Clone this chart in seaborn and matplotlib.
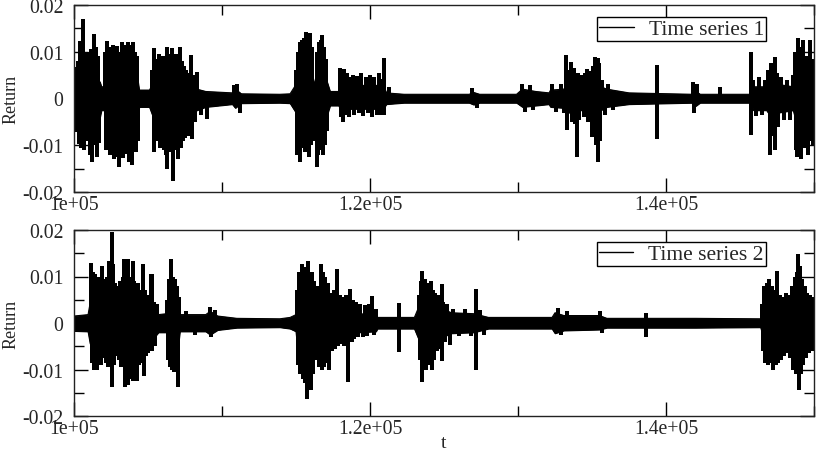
import matplotlib
matplotlib.use("Agg")
import matplotlib.pyplot as plt
import seaborn as sns
from matplotlib.ticker import MultipleLocator

# ---------------- data ----------------
x_ticks = [100000, 120000, 140000]
x_tick_labels = ["1e+05", "1.2e+05", "1.4e+05"]
y_ticks = [-0.02, -0.01, 0.0, 0.01, 0.02]
y_tick_labels = ["-0.02", "-0.01", "0", "0.01", "0.02"]
series_names = ["Time series 1", "Time series 2"]

# ---- Series 1: dense core band (upper / lower envelope)
t1_core = [100000, 100300, 100600, 101000, 101400, 101750, 101850, 102050, 102150, 102600,
           103000, 103500, 104000, 104300, 104400, 105100, 105300, 105600, 106000, 106500,
           107000, 107500, 107800, 108300, 108900, 110700, 110900, 111300, 113900, 114600,
           115000, 115200, 115700, 116100, 116250, 116450, 116800, 117100, 117300, 117900,
           118000, 118500, 118700, 120900, 121100, 122300, 126700, 127000, 127400, 129900,
           130300, 131200, 132100, 132200, 133100, 133300, 133900, 134000, 135000, 135200,
           135500, 135600, 136000, 137500, 141800, 142000, 142300, 145700, 145900, 146800,
           147000, 147600, 148600, 148800, 149400, 149600, 150000]
hi1_core = [0.0035, 0.004, 0.005, 0.005, 0.005, 0.0035, 0.0025, 0.0025, 0.005, 0.0055,
            0.0055, 0.0055, 0.005, 0.004, 0.0018, 0.0018, 0.003, 0.0045, 0.0045, 0.0045,
            0.0045, 0.0035, 0.003, 0.002, 0.0015, 0.0012, 0.002, 0.001, 0.0009, 0.001,
            0.003, 0.005, 0.0055, 0.005, 0.003, 0.005, 0.005, 0.0035, 0.0015, 0.0015,
            0.003, 0.003, 0.0028, 0.0028, 0.0012, 0.0009, 0.0009, 0.0013, 0.0009, 0.0009,
            0.002, 0.0015, 0.0012, 0.0018, 0.002, 0.003, 0.003, 0.0025, 0.003, 0.004,
            0.004, 0.0025, 0.002, 0.0012, 0.0009, 0.0016, 0.0009, 0.0009, 0.0025, 0.0025,
            0.0035, 0.003, 0.0025, 0.005, 0.0055, 0.0045, 0.0045]
lo1_core = [-0.0035, -0.0045, -0.005, -0.0055, -0.0055, -0.004, -0.0025, -0.0025, -0.0055, -0.006,
            -0.006, -0.006, -0.0055, -0.0045, -0.0018, -0.0018, -0.0035, -0.005, -0.0055, -0.0055,
            -0.005, -0.0045, -0.0035, -0.0025, -0.0018, -0.0012, -0.002, -0.001, -0.0009, -0.001,
            -0.003, -0.0055, -0.0055, -0.005, -0.003, -0.0055, -0.005, -0.0035, -0.0015, -0.0015,
            -0.0025, -0.0025, -0.0022, -0.0022, -0.0012, -0.0009, -0.0009, -0.0013, -0.0009, -0.0009,
            -0.0018, -0.0015, -0.0012, -0.0018, -0.002, -0.003, -0.003, -0.0025, -0.0025, -0.004,
            -0.0045, -0.0025, -0.0018, -0.0012, -0.0009, -0.0016, -0.0009, -0.0009, -0.0025, -0.0025,
            -0.0035, -0.003, -0.0025, -0.005, -0.0055, -0.005, -0.005]

# ---- Series 1: individual spikes (time, value)
t1_spk = [100050, 100100, 100180, 100240, 100300, 100350, 100420, 100470, 100520, 100580,
          100630, 100700, 100760, 100820, 100880, 100940, 101000, 101060, 101120, 101200,
          101260, 101350, 101420, 101480, 101550, 101620, 101700,
          102120, 102180, 102250, 102310, 102380, 102440, 102500, 102570, 102640, 102700,
          102780, 102850, 102920, 102980, 103040, 103100, 103170, 103220, 103300, 103370,
          103440, 103520, 103590, 103650, 103720, 103790, 103860, 103900, 103950, 104020,
          104080, 104150, 104220, 104290, 104330,
          105300, 105400, 105400, 105500, 105580, 105650, 105720, 105800, 105870, 105940,
          106010, 106080, 106150, 106220, 106260, 106300, 106380, 106450, 106520, 106600,
          106690, 106760, 106830, 106900, 107000, 107080, 107160, 107230, 107300, 107380,
          107450, 107520, 107600, 107680, 107750, 107820, 107900, 107950, 108080, 108150,
          108300, 108600, 108960, 110800, 111000, 111200,
          115020, 115050, 115120, 115200, 115250, 115300, 115380, 115440, 115520, 115580,
          115650, 115720, 115800, 115870, 115950, 116020, 116100, 116160, 116420, 116400,
          116480, 116540, 116600, 116660, 116730, 116800, 116870, 116940, 117010, 117080,
          117950, 118020, 118100, 118200, 118250, 118350, 118450, 118600, 118700, 118850,
          118950, 119100, 119250, 119400, 119550, 119700, 119850, 120000, 120150, 120300,
          120450, 120600, 120700, 120800, 120950, 120950, 121300,
          126900, 127200, 130300, 130500, 130800, 131000,
          132300, 132600, 132900, 133100, 133240, 133330, 133450, 133560, 133650, 133750,
          133850, 133960, 134050, 134150, 134300, 134450, 134550, 134640, 134750, 134850,
          134980, 135100, 135225, 135300, 135400, 135400, 135480, 135550, 135700, 135850,
          136100, 136400, 139370, 139370, 141800, 141900, 142100, 143650,
          145740, 145740, 145900, 146100, 146300, 146500, 146700, 146913, 147000, 147100,
          147200, 147300, 147390, 147390, 147500, 147600, 147800, 148000, 148200, 148400,
          148600, 148720, 148800, 148850, 148900, 148970, 149050, 149100, 149180, 149280,
          149350, 149450, 149520, 149600, 149700, 149780, 149850, 149930]
v1_spk = [0.0062, -0.0072, 0.0068, -0.0060, 0.0080, -0.0098, 0.0122, -0.0105, 0.0118, -0.0085,
          0.0170, -0.0110, 0.0095, -0.0080, 0.0100, -0.0090, 0.0090, -0.0120, 0.0105, -0.0136,
          0.0095, 0.0137, -0.0100, 0.0110, -0.0125, 0.0090, -0.0095,
          0.0100, -0.0110, 0.0123, -0.0095, 0.0110, -0.0120, 0.0105, -0.0100, 0.0115, -0.0130,
          0.0108, -0.0115, 0.0112, -0.0125, -0.0146, 0.0100, -0.0110, 0.0120, -0.0128, 0.0110,
          -0.0118, 0.0115, -0.0100, 0.0120, -0.0135, 0.0105, -0.0120, -0.0143, 0.0115, 0.0120,
          -0.0110, 0.0100, -0.0115, 0.0090, -0.0090,
          0.0060, 0.0107, -0.0114, -0.0070, 0.0085, -0.0090, 0.0095, -0.0105, 0.0080, -0.0095,
          0.0090, -0.0110, 0.0085, -0.0120, 0.0110, -0.0150, 0.0095, -0.0115, 0.0090, 0.0107,
          -0.0177, 0.0080, -0.0110, 0.0095, -0.0130, 0.0085, 0.0110, -0.0105, 0.0080, -0.0090,
          0.0070, -0.0085, 0.0060, -0.0080, 0.0055, -0.0070, 0.0093, -0.0086, 0.0050, -0.0050,
          0.0057, -0.0035, -0.0043, 0.0028, 0.0032, -0.0030,
          0.0060, -0.0121, 0.0100, -0.0110, 0.0120, -0.0136, 0.0125, -0.0105, 0.0130, -0.0115,
          0.0143, -0.0110, 0.0120, -0.0125, 0.0140, -0.0100, 0.0110, -0.0090, 0.0100, -0.0146,
          -0.0120, 0.0120, -0.0110, 0.0125, 0.0136, -0.0120, 0.0110, -0.0100, 0.0085, -0.0070,
          0.0066, -0.0040, 0.0050, -0.0050, 0.0064, -0.0035, 0.0055, -0.0040, 0.0045, 0.0050,
          -0.0035, 0.0048, -0.0030, 0.0055, -0.0038, 0.0045, -0.0032, 0.0050, -0.0040, 0.0045,
          -0.0035, 0.0055, -0.0036, 0.0042, 0.0086, -0.0036, 0.0025,
          0.0022, -0.0020, 0.0030, -0.0028, 0.0028, -0.0025,
          0.0030, -0.0028, 0.0032, -0.0030, 0.0093, -0.0068, 0.0060, 0.0079, -0.0050, 0.0065,
          -0.0055, -0.0125, 0.0055, -0.0045, 0.0050, -0.0040, 0.0055, 0.0064, -0.0050, 0.0058,
          -0.0082, 0.0070, 0.0089, -0.0100, 0.0087, -0.0136, 0.0075, -0.0090, 0.0040, -0.0035,
          0.0032, -0.0025, 0.0071, -0.0086, 0.0036, -0.0030, 0.0032, 0.0025,
          0.0100, -0.0079, 0.0040, -0.0038, 0.0045, -0.0035, 0.0040, 0.0060, -0.0120, 0.0075,
          -0.0080, 0.0065, 0.0089, -0.0110, 0.0055, -0.0060, 0.0045, -0.0045, 0.0040, -0.0045,
          0.0050, 0.0100, -0.0110, -0.0125, 0.0129, -0.0100, 0.0110, -0.0130, 0.0105, 0.0125,
          -0.0105, 0.0090, -0.0095, -0.0121, 0.0125, -0.0090, 0.0085, -0.0100]

# ---- Series 2: dense core band
t2_core = [100000, 100950, 101100, 101600, 102000, 102700, 102900, 103200, 103700, 104300,
           104600, 105200, 105700, 106250, 106350, 106800, 107050, 107150, 108900, 109200,
           109700, 111000, 113900, 114600, 115000, 115100, 116000, 116300, 116500, 117300,
           117400, 118000, 118100, 119100, 119200, 120400, 120500, 123000, 123300, 123700,
           124100, 124400, 124900, 125500, 127000, 128000, 132300, 132500, 133100, 135500,
           136000, 142000, 146400, 146600, 147200, 147600, 148200, 148600, 149300, 149500,
           150000]
hi2_core = [0.0015, 0.0018, 0.0045, 0.0055, 0.005, 0.005, 0.004, 0.0045, 0.005, 0.0045,
            0.0035, 0.0035, 0.0018, 0.002, 0.0045, 0.005, 0.004, 0.0018, 0.0018, 0.0025,
            0.0015, 0.001, 0.0009, 0.0012, 0.0018, 0.005, 0.0055, 0.003, 0.005, 0.0045,
            0.0038, 0.0035, 0.003, 0.0025, 0.002, 0.0018, 0.0012, 0.0012, 0.0035, 0.0045,
            0.004, 0.0038, 0.003, 0.0022, 0.002, 0.0012, 0.0012, 0.0022, 0.0016, 0.0016,
            0.001, 0.001, 0.0009, 0.0035, 0.0045, 0.0035, 0.0038, 0.0045, 0.004, 0.003,
            0.003]
lo2_core = [-0.0017, -0.0018, -0.0045, -0.0055, -0.005, -0.005, -0.004, -0.005, -0.0055, -0.0055,
            -0.0045, -0.004, -0.002, -0.002, -0.0045, -0.0055, -0.0045, -0.0018, -0.0018, -0.0025,
            -0.0015, -0.001, -0.0009, -0.0012, -0.0018, -0.005, -0.0055, -0.003, -0.005, -0.0045,
            -0.0038, -0.0035, -0.003, -0.0025, -0.002, -0.0018, -0.0012, -0.0012, -0.0035, -0.005,
            -0.005, -0.004, -0.003, -0.0022, -0.002, -0.0012, -0.0012, -0.0022, -0.0016, -0.0014,
            -0.001, -0.001, -0.0009, -0.0035, -0.005, -0.005, -0.004, -0.0055, -0.0045, -0.0035,
            -0.0035]

# ---- Series 2: individual spikes (time, value)
t2_spk = [101150, 101200, 101280, 101350, 101420, 101500, 101531, 101600, 101680, 101760,
          101840, 101914, 101990, 102060, 102130, 102200, 102280, 102342, 102432, 102545,
          102590, 102657, 102720, 102800, 102880, 102960, 103040, 103120, 103200, 103280,
          103355, 103468, 103540, 103610, 103671, 103671, 103750, 103820, 103900, 103964,
          103986, 104060, 104140, 104234, 104300, 104380, 104450, 104530, 104600, 104662,
          104707, 104780, 104860, 104940, 105020, 105100, 105202, 105247, 105300, 105400,
          105500, 105600,
          106300, 106360, 106420, 106480, 106553, 106576, 106640, 106700, 106770, 106840,
          106900, 106960, 107026, 107049, 107100, 107600, 108200, 109188, 109256, 109500,
          115060, 115120, 115200, 115280, 115382, 115450, 115520, 115600, 115660, 115720,
          115780, 115833, 115900, 115990, 116060, 116130, 116200, 116260, 116520, 116580,
          116666, 116740, 116820, 116900, 116980, 117060, 117150, 117252, 117350, 117450,
          117550, 117650, 117747, 117850, 117950, 118050, 118150, 118250, 118350, 118450,
          118535, 118648, 118750, 118850, 118950, 119050, 119200, 119350, 119500, 119650,
          119800, 119950, 120111, 120250, 120400, 121981, 121981,
          123300, 123380, 123450, 123535, 123535, 123620, 123700, 123780, 123850, 123920,
          124000, 124098, 124165, 124250, 124330, 124420, 124500, 124600, 124700, 124841,
          124841, 124950, 125050, 125200, 125404, 125600, 126000, 126400, 126800, 127138,
          127138, 127400, 127700,
          132726, 132900, 133300, 135541, 135700, 138648, 138648,
          146500, 146580, 146650, 146720, 146800, 146880, 146981, 147050, 147130, 147251,
          147320, 147400, 147521, 147600, 147700, 147800, 147900, 148000, 148100, 148200,
          148300, 148400, 148500, 148602, 148700, 148780, 148860, 148940, 148963, 149053,
          149130, 149200, 149280, 149360, 149450, 149550, 149650, 149750, 149850, 149950]
v2_spk = [0.0130, -0.0085, 0.0110, -0.0102, 0.0105, -0.0095, -0.0102, 0.0100, -0.0080, 0.0090,
          -0.0090, 0.0123, -0.0075, 0.0095, -0.0085, 0.0100, -0.0095, 0.0133, 0.0120, -0.0138,
          0.0196, 0.0126, -0.0090, 0.0085, -0.0070, 0.0080, -0.0080, 0.0090, -0.0095, 0.0100,
          0.0137, -0.0138, 0.0095, -0.0110, 0.0137, -0.0134, 0.0100, -0.0120, 0.0095, 0.0134,
          -0.0125, 0.0090, -0.0110, -0.0124, 0.0085, -0.0090, 0.0070, -0.0085, 0.0065, 0.0126,
          -0.0113, 0.0070, -0.0070, 0.0060, -0.0065, 0.0055, 0.0105, 0.0106, -0.0060, 0.0045,
          -0.0050, 0.0040,
          0.0050, -0.0080, 0.0095, -0.0095, 0.0137, 0.0120, -0.0100, 0.0098, -0.0105, 0.0095,
          -0.0098, 0.0080, -0.0138, -0.0120, 0.0055, 0.0025, -0.0025, 0.0034, -0.0030, 0.0028,
          0.0070, -0.0090, 0.0110, -0.0110, 0.0126, -0.0120, 0.0115, -0.0130, 0.0120, -0.0163,
          0.0110, 0.0134, -0.0120, -0.0145, 0.0110, -0.0110, 0.0090, -0.0080, 0.0080, -0.0095,
          0.0126, -0.0100, 0.0110, -0.0095, 0.0100, -0.0085, 0.0085, -0.0102, 0.0065, -0.0060,
          0.0070, -0.0055, 0.0116, -0.0050, 0.0060, -0.0045, 0.0055, -0.0050, 0.0060, -0.0045,
          -0.0127, 0.0073, -0.0040, 0.0050, -0.0035, 0.0045, -0.0030, 0.0040, -0.0030, 0.0038,
          -0.0028, 0.0040, 0.0059, -0.0025, 0.0030, 0.0044, -0.0063,
          0.0060, -0.0080, 0.0090, 0.0112, -0.0127, -0.0095, 0.0095, -0.0100, 0.0085, -0.0090,
          0.0080, 0.0091, -0.0102, 0.0070, -0.0080, 0.0065, -0.0060, 0.0060, -0.0055, 0.0084,
          -0.0081, 0.0045, -0.0040, 0.0040, -0.0048, 0.0030, -0.0028, 0.0030, -0.0028, 0.0073,
          -0.0100, 0.0028, -0.0025,
          0.0033, -0.0025, 0.0026, 0.0026, -0.0022, 0.0021, -0.0031,
          0.0040, -0.0060, 0.0080, -0.0085, 0.0085, -0.0090, 0.0094, -0.0085, 0.0080, -0.0100,
          0.0070, -0.0090, 0.0112, -0.0085, 0.0060, -0.0080, 0.0055, -0.0070, 0.0065, -0.0065,
          0.0060, -0.0075, 0.0080, -0.0102, 0.0100, -0.0110, 0.0110, 0.0149, -0.0145, 0.0123,
          -0.0110, 0.0095, -0.0090, 0.0080, -0.0075, 0.0065, -0.0065, 0.0060, -0.0060, 0.0055]

# ---------------- style ----------------
sns.set_style("ticks")
plt.rcParams["font.family"] = ["Liberation Serif", "DejaVu Serif"]
plt.rcParams["axes.linewidth"] = 1.0

W, H = 817, 452
fig = plt.figure(figsize=(W / 100, H / 100), dpi=100)

def fx(px):
    return px / W

def fy(py):
    return 1 - py / H

panels = [
    dict(top=6, bottom=193, t=t1_core, hi=hi1_core, lo=lo1_core, ts=t1_spk, vs=v1_spk,
         name=series_names[0], leg_top=18),
    dict(top=231, bottom=417, t=t2_core, hi=hi2_core, lo=lo2_core, ts=t2_spk, vs=v2_spk,
         name=series_names[1], leg_top=243),
]

left_px, right_px = 74, 814
for i, p in enumerate(panels):
    ax = fig.add_axes([fx(left_px), fy(p["bottom"]), fx(right_px) - fx(left_px),
                       fy(p["top"]) - fy(p["bottom"])])
    ax.fill_between(p["t"], p["lo"], p["hi"], color="black", linewidth=0.8)
    sns.lineplot(x=p["t"], y=p["hi"], ax=ax, color="black", linewidth=0.8,
                 estimator=None, sort=False, label=p["name"])
    sns.lineplot(x=p["t"], y=p["lo"], ax=ax, color="black", linewidth=0.8,
                 estimator=None, sort=False, legend=False)
    ax.vlines(p["ts"], 0, p["vs"], color="black", linewidth=1.7, antialiased=False)

    ax.set_xlim(100000, 150000)
    ax.set_ylim(-0.02, 0.02)
    ax.set_xticks(x_ticks, x_tick_labels)
    ax.set_yticks(y_ticks, y_tick_labels)
    ax.xaxis.set_minor_locator(MultipleLocator(10000))
    ax.yaxis.set_minor_locator(MultipleLocator(0.005))
    ax.tick_params(which="both", direction="in", top=True, right=True,
                   labelsize=14.2, color="black", width=1.0)
    ax.tick_params(which="major", length=10)
    ax.tick_params(which="minor", length=7)
    ax.tick_params(axis="x", which="major", pad=2)
    ax.tick_params(axis="y", which="major", pad=7.5)
    for s in ax.spines.values():
        s.set_visible(True)
        s.set_color("#222222")
        s.set_linewidth(1.0)
    ax.set_ylabel("Return", fontsize=13, labelpad=2)
    ax.set_xlabel("")
    leg = ax.legend(loc="upper right",
                    bbox_to_anchor=(fx(766), fy(p["leg_top"])),
                    bbox_transform=fig.transFigure,
                    fontsize=15.5, frameon=True, fancybox=False, shadow=False,
                    handlelength=1.6, handletextpad=0.7, borderpad=0.1,
                    borderaxespad=0.0, framealpha=1.0)
    leg.get_frame().set_edgecolor("black")
    leg.get_frame().set_linewidth(1.0)
    for ln in leg.get_lines():
        ln.set_linewidth(1.0)
    if i == 1:
        ax.set_xlabel("t", fontsize=14, labelpad=-3)

fig.savefig("out.png", dpi=100)
